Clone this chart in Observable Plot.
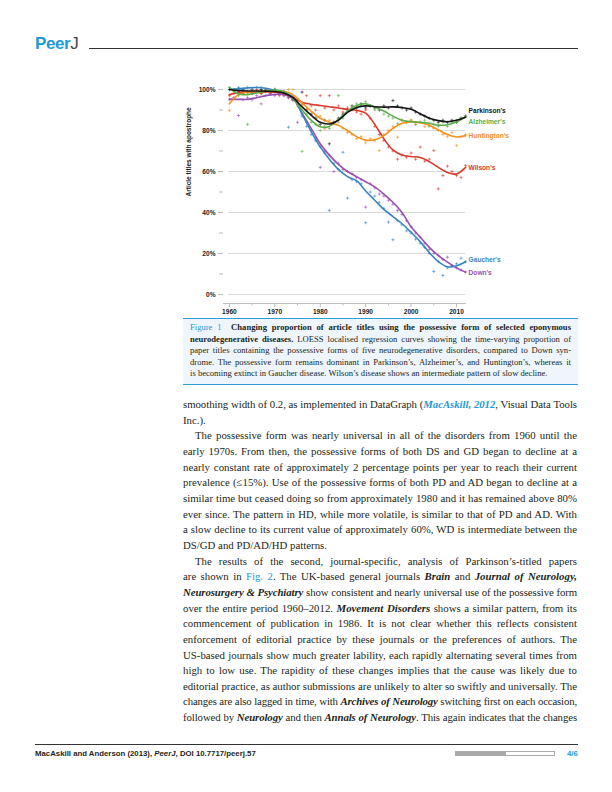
<!DOCTYPE html>
<html><head><meta charset="utf-8">
<script src="https://cdn.jsdelivr.net/npm/d3@7"></script>
<script src="https://cdn.jsdelivr.net/npm/@observablehq/plot@0.6"></script>
<style>
html,body{margin:0;padding:0;background:#fff;}
body{width:612px;height:792px;position:relative;overflow:hidden;font-family:"Liberation Serif",serif;color:#231f20;}
.abs{position:absolute;}
#logo{left:35px;top:34px;font-family:"Liberation Sans",Arial,sans-serif;font-size:17px;line-height:20px;letter-spacing:-0.4px;}
#logo b{color:#1e9ad6;}
#logo span{color:#444;font-weight:normal;}
#hrule{left:89px;top:48px;width:489px;height:1px;background:#333;}
#chart{left:180px;top:78px;width:360px;height:240px;}
#cap{left:183px;top:318px;width:395px;height:65px;background:#eef6fb;border-top:1px solid #2a9fd8;border-bottom:1.5px solid #2a9fd8;}
#capin{position:absolute;left:7px;top:3px;width:381px;font-size:8.6px;line-height:11.6px;}
.j{text-align:justify;text-align-last:justify;}
.l{text-align:left;}
.blue{color:#1e9ad6;}
#body{left:183px;top:397px;width:394px;font-size:10.8px;line-height:15.65px;}
.ind{text-indent:12px;}
.bi{font-style:italic;font-weight:bold;}
.lnk{color:#1e9ad6;font-style:italic;font-weight:bold;}
#frule{left:35px;top:744px;width:543px;height:1px;background:#333;}
#ftext{left:35px;top:749px;font-family:"Liberation Sans",Arial,sans-serif;font-weight:bold;font-size:7.8px;line-height:10px;color:#231f20;}
#bar{left:455px;top:751px;width:100px;height:5px;border:0.5px solid #aaa;box-sizing:border-box;background:#fff;}
#barfill{position:absolute;left:0;top:0;width:50px;height:100%;background:#a8a8a8;}
#page{left:567px;top:749px;font-family:"Liberation Sans",Arial,sans-serif;font-weight:bold;font-size:7.8px;line-height:10px;color:#1e9ad6;}
</style></head>
<body>
<div id="logo" class="abs"><b>Peer</b><span>J</span></div>
<div id="hrule" class="abs"></div>
<div id="chart" class="abs"></div>
<div id="cap" class="abs"><div id="capin">
<div class="j"><span class="blue">Figure 1</span>&nbsp; <b>Changing proportion of article titles using the possessive form of selected eponymous</b></div>
<div class="j"><b>neurodegenerative diseases.</b> LOESS localised regression curves showing the time-varying proportion of</div>
<div class="j">paper titles containing the possessive forms of five neurodegenerative disorders, compared to Down syn-</div>
<div class="j">drome. The possessive form remains dominant in Parkinson’s, Alzheimer’s, and Huntington’s, whereas it</div>
<div class="l">is becoming extinct in Gaucher disease. Wilson’s disease shows an intermediate pattern of slow decline.</div>
</div></div>
<div id="body" class="abs">
<div class="j">smoothing width of 0.2, as implemented in DataGraph (<span class="lnk">MacAskill, 2012</span>, Visual Data Tools</div>
<div class="l">Inc.).</div>
<div class="j ind">The possessive form was nearly universal in all of the disorders from 1960 until the</div>
<div class="j">early 1970s. From then, the possessive forms of both DS and GD began to decline at a</div>
<div class="j">nearly constant rate of approximately 2 percentage points per year to reach their current</div>
<div class="j">prevalence (≤15%). Use of the possessive forms of both PD and AD began to decline at a</div>
<div class="j">similar time but ceased doing so from approximately 1980 and it has remained above 80%</div>
<div class="j">ever since. The pattern in HD, while more volatile, is similar to that of PD and AD. With</div>
<div class="j">a slow decline to its current value of approximately 60%, WD is intermediate between the</div>
<div class="l">DS/GD and PD/AD/HD patterns.</div>
<div class="j ind">The results of the second, journal-specific, analysis of Parkinson’s-titled papers</div>
<div class="j">are shown in <span class="blue">Fig. 2</span>. The UK-based general journals <span class="bi">Brain</span> and <span class="bi">Journal of Neurology,</span></div>
<div class="j"><span class="bi">Neurosurgery &amp; Psychiatry</span> show consistent and nearly universal use of the possessive form</div>
<div class="j">over the entire period 1960–2012. <span class="bi">Movement Disorders</span> shows a similar pattern, from its</div>
<div class="j">commencement of publication in 1986. It is not clear whether this reflects consistent</div>
<div class="j">enforcement of editorial practice by these journals or the preferences of authors. The</div>
<div class="j">US-based journals show much greater lability, each rapidly alternating several times from</div>
<div class="j">high to low use. The rapidity of these changes implies that the cause was likely due to</div>
<div class="j">editorial practice, as author submissions are unlikely to alter so swiftly and universally. The</div>
<div class="j">changes are also lagged in time, with <span class="bi">Archives of Neurology</span> switching first on each occasion,</div>
<div class="j">followed by <span class="bi">Neurology</span> and then <span class="bi">Annals of Neurology</span>. This again indicates that the changes</div>
</div>
<div id="frule" class="abs"></div>
<div id="ftext" class="abs">MacAskill and Anderson (2013), <i>PeerJ</i>, DOI 10.7717/peerj.57</div>
<div id="bar" class="abs"><div id="barfill"></div></div>
<div id="page" class="abs">4/6</div>
<script>
// fit each typeset line to one row
document.querySelectorAll("#body > div, #capin > div").forEach(div => {
  const target = div.clientWidth;
  const prev = div.style.cssText;
  div.style.whiteSpace = "nowrap";
  div.style.display = "inline-block";
  div.style.width = "auto";
  const w = div.getBoundingClientRect().width;
  div.style.cssText = prev;
  if (w > target - 1) {
    const n = div.textContent.length;
    div.style.letterSpacing = ((target - 2 - w) / n).toFixed(3) + "px";
  }
});
</script>
<script>
// ---- data ----
const series = ["Parkinson's", "Alzheimer's", "Huntington's", "Wilson's", "Gaucher's", "Down's"];
const seriesColors = ["#141414", "#5aad48", "#f5901e", "#d8392b", "#3a84bf", "#9a4fb0"];

const smoothYears = [1960,1962,1964,1966,1968,1970,1972,1974,1976,1978,1980,1982,1984,1986,1988,1990,1992,1994,1996,1998,2000,2002,2004,2006,2008,2010,2012];
const parkinsonsSmooth = [100,99.5,99.3,99.3,99.2,99,98.3,96,91.5,87.5,84,83.2,85,88.8,91.2,92,91.6,91.4,91.5,91.2,90.4,88.2,86,84.8,84.3,85,86.5];
const alzheimersSmooth = [101,97.8,97.5,98.3,99.3,99.6,99,95.5,90,85,81.8,82,85.5,89.5,92.2,93,91.5,89.5,87,85,84.3,84,83.5,82.6,82.8,84.2,86.5];
const huntingtonsSmooth = [93,97.5,98.8,99,99,99.2,99,97.5,93.5,89.5,86,84,82.5,80,77,75.3,75.5,77.5,81,83.5,84.2,83.8,82.6,80.3,78,76.8,77.5];
const wilsonsSmooth = [97.5,98.5,98.8,98.8,98.8,98.7,98.2,96,93.8,92.8,92.2,91.6,91,90.3,89.8,88.5,83,76,70.5,68,67.3,66.8,64.8,62,59.5,58.8,62];
const gauchersSmooth = [100,100.3,100.8,101,100.6,99.5,98.3,96.5,88,79.5,72,66,61,57.5,55.5,50.5,46,41.5,38,34.5,30.3,25.8,20.5,16,13.5,14,16];
const downsSmooth = [95.3,95.2,95.2,96,97,97.6,97.6,95.5,88.5,81,73.5,68,63.5,60,57.5,55,52.5,49,45,40,33,28,23,19,15.8,13,10.9];

const pointYears = [1960,1961,1962,1963,1964,1965,1966,1967,1968,1969,1970,1971,1972,1973,1974,1975,1976,1977,1978,1979,1980,1981,1982,1983,1984,1985,1986,1987,1988,1989,1990,1991,1992,1993,1994,1995,1996,1997,1998,1999,2000,2001,2002,2003,2004,2005,2006,2007,2008,2009,2010,2011,2012];
const parkinsonsPoints = [100,100,99,100,99,100,99,100,99,99,100,98,99,97,95,93,98.7,90,88,86,83,85,73.5,84,86,88,90,92,91,93,91,92,91,90,92,91,94.6,92,91,90,91,89,88,87,86,85,84,85,84,85,84,86,87];
const alzheimersPoints = [101,99,97,98,83,98,99,98,100,99,100,99,98,97,95,92,69.8,88,84,83,80,82,81,84,97,86,90,91,93,92,94,92,90,91,88,87,86,83.3,85,84,85,83,84,85,82,83,82,84,82,84,85,86,87];
const huntingtonsPoints = [89.8,96,98,99,98,100,99,98,100,99,100,98,99,100,100,95,92,90,88,86,87,80.8,85,83,84,81,79,78,76,77,74,76,75,70.2,78,80,82,76.7,85,84,85,83,84,82,83,81,80,78,77,79,72.7,77,78];
const wilsonsPoints = [97,98,99,98,99,98,100,98,99,98,99,97,98,96,95,94,93,97,92,90,97,91,97,90,92,89,91,90,89,88,90,86,82,78,75,72,70,66,68,67,69,66,71.9,65,66,70.2,51.5,58,62.6,60,58,57,63];
const gauchersPoints = [100,100,101,100,101,100,101,101,100,99,100,98,97,81.6,96,93,87,82,78,75,72,69,41,64,61,69.4,47,56,55,54,35,50,48,45,42,35.3,26.7,36,34,31,30,27,25,23,20,11.2,16,9.3,13,14,15,17.7,16];
const downsPoints = [95,96,87.3,95,96,95,97,93,97,98,97,98,97,96,95,84,88,84,80,76,62,70,68,60,64,61,60,59,57,56,42.6,54,52,49,48,46,44,41,39,36,33,30,28,25,22,20,19,17,18.2,14,13,12,11];

const yTicks = [0, 20, 40, 60, 80, 100];
const yMinorTicks = [10, 30, 50, 70, 90];
const xTicks = [1960, 1970, 1980, 1990, 2000, 2010];
const xMinorTicks = [1965, 1975, 1985, 1995, 2005];
const yTitle = "Article titles with apostrophe";

// ---- build tables ----
const smoothArrays = [parkinsonsSmooth, alzheimersSmooth, huntingtonsSmooth, wilsonsSmooth, gauchersSmooth, downsSmooth];
const pointArrays = [parkinsonsPoints, alzheimersPoints, huntingtonsPoints, wilsonsPoints, gauchersPoints, downsPoints];
const smoothData = [], pointData = [];
series.forEach((s, i) => {
  smoothArrays[i].forEach((v, j) => smoothData.push({series: s, year: smoothYears[j], value: v}));
  pointArrays[i].forEach((v, j) => pointData.push({series: s, year: pointYears[j], value: v}));
});
const drawOrder = series.slice().reverse();

// label nudges (pixels)
const labelDy = [-6, 5, 0, 0, -2, 1];

const yBottom = -4.4;
const font = "Liberation Sans, Arial, sans-serif";

const marks = [
  Plot.ruleY(yTicks, {x1: 1959.8, x2: 2012, stroke: "#cfcfcf", strokeWidth: 0.8}),
  Plot.ruleY([yBottom], {stroke: "#bdbdbd", strokeWidth: 1}),
  Plot.axisY({ticks: yTicks, tickFormat: d => d + "%", tickSize: 5, tickPadding: 3, stroke: "#bbb", label: null, fontWeight: "bold", fill: "#222"}),
  Plot.axisY({ticks: yMinorTicks, tickFormat: () => "", tickSize: 4, stroke: "#bbb", label: null}),
  Plot.axisX({ticks: xTicks, tickFormat: d => String(d), tickSize: 4, tickPadding: 2, stroke: "#bbb", label: null, fontWeight: "bold", fill: "#222"}),
  Plot.axisX({ticks: xMinorTicks, tickFormat: () => "", tickSize: 2.5, stroke: "#bbb", label: null}),
  Plot.dot(pointData, {x: "year", y: "value", stroke: "series", symbol: "plus", r: 1.1, strokeWidth: 0.8, strokeOpacity: 0.75}),
  ...drawOrder.map(s => Plot.line(smoothData.filter(d => d.series === s), {x: "year", y: "value", stroke: "series", strokeWidth: 1.6, curve: "catmull-rom"})),
  ...series.map((s, i) => Plot.text([smoothData.filter(d => d.series === s).slice(-1)[0]], {
    x: "year", y: "value", text: d => d.series, fill: "series", textAnchor: "start", dx: 3, dy: labelDy[i],
    fontWeight: "bold", fontSize: 6.6
  })),
  Plot.text([yTitle], {frameAnchor: "left", rotate: -90, dx: -35, fontWeight: "bold", fontSize: 6.5, fill: "#222"})
];

const chart = Plot.plot({
  width: 360, height: 240,
  marginLeft: 43, marginRight: 74, marginTop: 11, marginBottom: 15,
  x: {domain: [1958.7, 2012.2]},
  y: {domain: [yBottom, 100]},
  color: {domain: series, range: seriesColors},
  style: {fontFamily: font, fontSize: "6.6px", background: "transparent", overflow: "visible"},
  marks
});
document.getElementById("chart").appendChild(chart);
</script>
</body></html>
